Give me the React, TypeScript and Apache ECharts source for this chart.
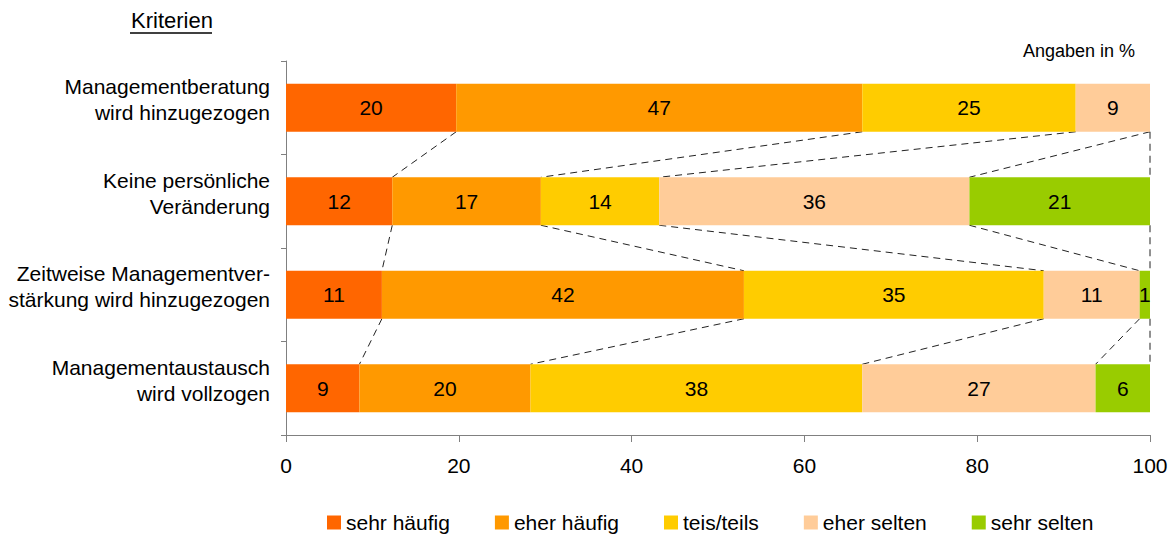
import React, { useEffect, useRef } from "react";
import * as echarts from "echarts";

// Criteria (top to bottom)
const categories = [
  "Managementberatung\nwird hinzugezogen",
  "Keine persönliche\nVeränderung",
  "Zeitweise Managementver-\nstärkung wird hinzugezogen",
  "Managementaustausch\nwird vollzogen",
];

const seriesNames = ["sehr häufig", "eher häufig", "teis/teils", "eher selten", "sehr selten"];
const seriesColors = ["#FF6600", "#FF9900", "#FFCC00", "#FFCC99", "#99CC00"];

// Shares in percent per criterion
const sehrHaeufig = [19.7, 12.3, 11.1, 8.5];
const eherHaeufig = [47.0, 17.2, 41.9, 19.8];
const teilsTeils = [24.7, 13.7, 34.7, 38.4];
const eherSelten = [8.6, 35.9, 11.1, 27.0];
const sehrSelten = [0, 20.9, 1.2, 6.3];

const xTicks = { min: 0, max: 100, interval: 20 };

const FONT = "'Liberation Sans', Arial, Helvetica, sans-serif";
const BAR_HEIGHT = 48;

const seriesValues = [sehrHaeufig, eherHaeufig, teilsTeils, eherSelten, sehrSelten];

// Cumulative boundaries of every row, used for the connecting series lines
function boundaries(row: number): number[] {
  const out: number[] = [];
  let sum = 0;
  for (const s of seriesValues) {
    sum += s[row];
    out.push(sum);
  }
  return out;
}

function buildSeriesLines(): number[][] {
  const lines: number[][] = [];
  for (let r = 0; r < categories.length - 1; r++) {
    const a = boundaries(r);
    const b = boundaries(r + 1);
    for (let k = 0; k < a.length; k++) {
      const prev = lines[lines.length - 1];
      const item = [a[k], r, b[k], r + 1];
      if (prev && prev[1] === r && Math.abs(prev[0] - item[0]) < 1e-9 && Math.abs(prev[2] - item[2]) < 1e-9) continue;
      lines.push(item);
    }
  }
  return lines;
}

export default function App() {
  const ref = useRef<HTMLDivElement>(null);

  useEffect(() => {
    document.body.style.margin = "0";
    if (!ref.current) return;
    const chart = echarts.init(ref.current, null, { renderer: "svg" });

    const barSeries = seriesNames.map((name, i) => ({
      name,
      type: "bar",
      stack: "total",
      barWidth: BAR_HEIGHT,
      itemStyle: { color: seriesColors[i] },
      label: {
        show: true,
        position: "inside",
        color: "#000",
        fontSize: 21,
        fontFamily: FONT,
        formatter: (p: any) => (p.value > 0 ? String(Math.round(p.value)) : ""),
      },
      data: seriesValues[i],
      z: 3,
    }));

    const option = {
      animation: false,
      textStyle: { fontFamily: FONT },
      grid: { left: 286, right: 26, top: 61, bottom: 100, containLabel: false },
      legend: {
        data: seriesNames,
        left: 322,
        top: 507,
        icon: "rect",
        itemWidth: 14,
        itemHeight: 14,
        itemGap: 45,
        textStyle: { fontSize: 21, color: "#000", fontFamily: FONT },
      },
      xAxis: {
        type: "value",
        min: xTicks.min,
        max: xTicks.max,
        interval: xTicks.interval,
        splitLine: { show: false },
        axisLine: { show: true, lineStyle: { color: "#808080", width: 1 } },
        axisTick: { show: true, length: 7, lineStyle: { color: "#808080" } },
        axisLabel: { fontSize: 21, color: "#000", fontFamily: FONT, margin: 20 },
      },
      yAxis: {
        type: "category",
        inverse: true,
        data: categories,
        axisLine: { show: true, lineStyle: { color: "#808080", width: 1 } },
        axisTick: { show: true, length: 5, lineStyle: { color: "#808080" } },
        axisLabel: {
          fontSize: 21,
          color: "#000",
          fontFamily: FONT,
          lineHeight: 26,
          align: "right",
          margin: 16,
          // a short trailing spacer line lifts the two text lines slightly above the bar centre
          formatter: (v: string) => `${v}\n{s| }`,
          rich: { s: { lineHeight: 16, fontSize: 10 } },
        },
      },
      graphic: [
        {
          type: "text",
          left: 131,
          top: 9,
          style: { text: "Kriterien", fontSize: 22, fill: "#000", fontFamily: FONT },
        },
        {
          type: "line",
          shape: { x1: 130, y1: 33, x2: 212, y2: 33 },
          style: { stroke: "#000", lineWidth: 1.5 },
        },
        {
          type: "text",
          right: 41,
          top: 42,
          style: { text: "Angaben in %", fontSize: 18, fill: "#000", fontFamily: FONT },
        },
      ],
      series: [
        ...barSeries,
        {
          type: "custom",
          name: "series-lines",
          silent: true,
          encode: { x: [0, 2], y: [1, 3] },
          data: buildSeriesLines(),
          z: 2,
          renderItem: (_params: any, api: any) => {
            const p1 = api.coord([api.value(0), api.value(1)]);
            const p2 = api.coord([api.value(2), api.value(3)]);
            const half = BAR_HEIGHT / 2;
            return {
              type: "line",
              shape: { x1: p1[0], y1: p1[1] + half, x2: p2[0], y2: p2[1] - half },
              style: { stroke: "#222", lineWidth: 1, lineDash: [7, 5], fill: null },
            };
          },
        },
      ],
    };

    chart.setOption(option as any);
    return () => chart.dispose();
  }, []);

  return <div ref={ref} style={{ width: 1176, height: 535 }} />;
}
